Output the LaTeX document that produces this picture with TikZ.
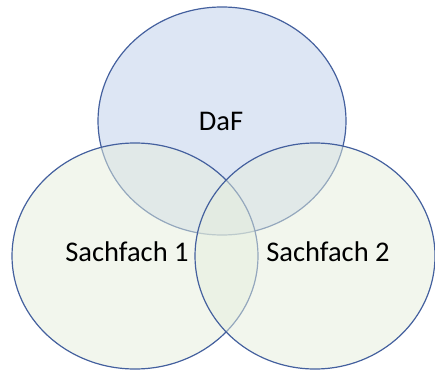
\documentclass[tikz,border=0pt]{standalone}
\usepackage{fontspec}
\setmainfont{Carlito}
\definecolor{kreisrand}{RGB}{68,96,158}
\definecolor{dafblau}{RGB}{180,199,231}
\definecolor{fachgruen}{RGB}{229,238,220}
\tikzset{
  kreis/.style={draw=kreisrand,line width=1.2pt,fill opacity=0.5},
  etikett/.style={font=\fontsize{28.5}{32}\selectfont,text=black}
}
\begin{document}
\begin{tikzpicture}[x=1pt,y=-1pt]
			\useasboundingbox (0,0) rectangle (435,374);
			% drei Kreise
			\draw[kreis,fill=dafblau,fill opacity=0.45] (222,121) ellipse [x radius=124,y radius=114];
			\draw[kreis,fill=fachgruen] (135,256) ellipse [x radius=123,y radius=113];
			\draw[kreis,fill=fachgruen] (315,256) ellipse [x radius=120,y radius=113];
			% Beschriftung
			\node[etikett] (daf) at (221,121) {DaF};
			\node[etikett] (fach1) at (127,252) {Sachfach 1};
			\node[etikett] (fach2) at (328,252) {Sachfach 2};
		\end{tikzpicture}
\end{document}
